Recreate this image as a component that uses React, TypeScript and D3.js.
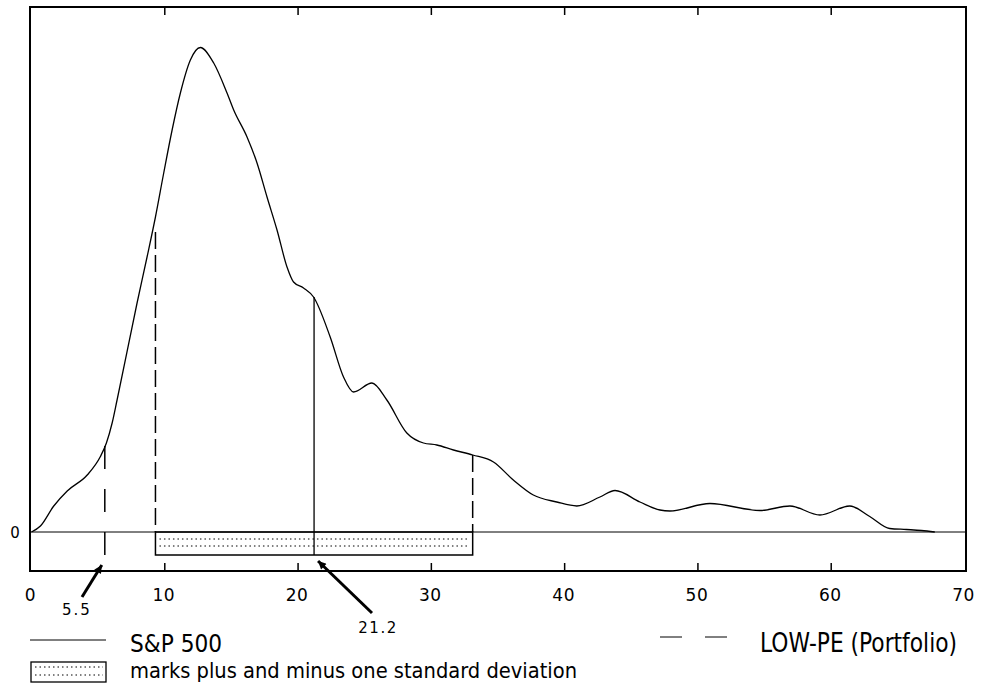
import React, { useEffect, useRef } from 'react';
import * as d3 from 'd3';

// S&P 500 P/E density (x = P/E, y = relative density)
const peValues = [0, 0.67, 1.67, 2.68, 4.18, 5.17, 5.62, 6.05, 6.42, 7.92, 8.67, 9.3, 9.92, 10.55, 11.17, 11.92, 12.67, 13.67, 14.67, 15.17, 16.17, 16.92, 17.67, 18.42, 19.17, 19.66, 20.41, 21.16, 22.41, 23.41, 24.16, 25.54, 26.66, 28.16, 29.41, 30.41, 31.66, 33.11, 34.66, 36.15, 37.65, 39.41, 40.91, 42.65, 43.78, 45.65, 47.15, 47.9, 50.9, 54.65, 56.9, 59.15, 61.39, 62.89, 64.39, 65.64, 66.77, 67.77];
const densityValues = [0, 0.012, 0.052, 0.082, 0.114, 0.151, 0.178, 0.218, 0.264, 0.458, 0.55, 0.63, 0.718, 0.804, 0.878, 0.944, 0.969, 0.938, 0.878, 0.844, 0.79, 0.738, 0.67, 0.604, 0.53, 0.5, 0.488, 0.47, 0.39, 0.31, 0.28, 0.298, 0.264, 0.198, 0.178, 0.174, 0.164, 0.154, 0.14, 0.104, 0.074, 0.06, 0.052, 0.07, 0.083, 0.06, 0.044, 0.042, 0.057, 0.043, 0.052, 0.034, 0.052, 0.031, 0.007, 0.005, 0.003, 0];

const xTicks = [0, 10, 20, 30, 40, 50, 60, 70];
const spMean = 21.2;
const spLow = 9.3;
const spHigh = 33.1;
const lowPe = 5.5;
// dashed LOW-PE marks: [x, top, bottom]
const dashedMarks = [
  [lowPe, 0.172, -0.048],
  [spLow, 0.6, 0],
  [spHigh, 0.154, 0],
];

const App = () => {
  const ref = useRef(null);

  useEffect(() => {
    document.body.style.margin = '0';
    const svg = d3.select(ref.current).attr('width', 981).attr('height', 688);
    svg.selectAll('*').remove();

    const left = 30, right = 966, top = 7, bottom = 571;
    const x = d3.scaleLinear().domain([0, 70]).range([31.5, 964.5]);
    const y = d3.scaleLinear().domain([-0.078, 1.05]).range([bottom, top]);

    const defs = svg.append('defs');
    defs.append('marker')
      .attr('id', 'head')
      .attr('viewBox', '0 0 10 10')
      .attr('refX', 10).attr('refY', 5)
      .attr('markerWidth', 11).attr('markerHeight', 8)
      .attr('markerUnits', 'userSpaceOnUse')
      .attr('orient', 'auto')
      .append('path').attr('d', 'M0,0L10,5L0,10Z').attr('fill', 'black');

    const font = 'DejaVu Sans, Verdana, sans-serif';

    // frame
    svg.append('rect')
      .attr('x', left).attr('y', top)
      .attr('width', right - left).attr('height', bottom - top)
      .attr('fill', 'none').attr('stroke', 'black').attr('stroke-width', 2);

    // ticks top and bottom
    const inner = xTicks.filter(t => t > 0 && t < 70);
    svg.selectAll('.tb').data(inner).enter().append('line')
      .attr('x1', d => x(d)).attr('x2', d => x(d))
      .attr('y1', bottom).attr('y2', bottom - 8)
      .attr('stroke', 'black').attr('stroke-width', 1.5);
    svg.selectAll('.tt').data(inner).enter().append('line')
      .attr('x1', d => x(d)).attr('x2', d => x(d))
      .attr('y1', top).attr('y2', top + 8)
      .attr('stroke', 'black').attr('stroke-width', 1.5);

    svg.selectAll('.tl').data(xTicks).enter().append('text')
      .attr('x', d => x(d) - 1).attr('y', 601)
      .attr('text-anchor', 'middle')
      .attr('font-family', font).attr('font-size', 17).attr('letter-spacing', 0.5)
      .text(d => d);

    // zero line + label
    svg.append('line')
      .attr('x1', left).attr('x2', right)
      .attr('y1', y(0)).attr('y2', y(0))
      .attr('stroke', 'black').attr('stroke-width', 1);
    svg.append('text')
      .attr('x', 15).attr('y', y(0) + 6)
      .attr('text-anchor', 'middle')
      .attr('font-family', font).attr('font-size', 15)
      .text('0');

    // std dev box
    const boxBottom = y(-0.046);
    svg.append('rect')
      .attr('x', x(spLow)).attr('y', y(0))
      .attr('width', x(spHigh) - x(spLow)).attr('height', boxBottom - y(0))
      .attr('fill', 'none').attr('stroke', 'black').attr('stroke-width', 1.5);
    [-0.014, -0.028].forEach(v => {
      svg.append('line')
        .attr('x1', x(spLow) + 4).attr('x2', x(spHigh) - 3)
        .attr('y1', y(v)).attr('y2', y(v))
        .attr('stroke', 'black').attr('stroke-width', 1)
        .attr('stroke-dasharray', '1.5,3');
    });

    // density curve
    const pts = peValues.map((p, i) => [p, densityValues[i]]);
    const line = d3.line().x(d => x(d[0])).y(d => y(d[1])).curve(d3.curveMonotoneX);
    svg.append('path')
      .attr('d', line(pts))
      .attr('fill', 'none').attr('stroke', 'black').attr('stroke-width', 1.3);

    // mean line
    svg.append('line')
      .attr('x1', x(spMean)).attr('x2', x(spMean))
      .attr('y1', y(0.47)).attr('y2', boxBottom)
      .attr('stroke', 'black').attr('stroke-width', 1.3);

    // dashed LOW-PE marks
    svg.selectAll('.dm').data(dashedMarks).enter().append('line')
      .attr('x1', d => x(d[0])).attr('x2', d => x(d[0]))
      .attr('y1', d => y(d[1])).attr('y2', d => y(d[2]))
      .attr('stroke', 'black').attr('stroke-width', 1.5)
      .attr('stroke-dasharray', (d, i) => i === 0 ? '23,20' : '17,6');

    // arrows + labels
    svg.append('line')
      .attr('x1', 82).attr('y1', 597).attr('x2', x(lowPe) - 3).attr('y2', 565)
      .attr('stroke', 'black').attr('stroke-width', 3)
      .attr('marker-end', 'url(#head)');
    svg.append('text')
      .attr('x', 77).attr('y', 615).attr('text-anchor', 'middle')
      .attr('font-family', font).attr('font-size', 15).attr('letter-spacing', 2)
      .text('5.5');
    svg.append('line')
      .attr('x1', 372).attr('y1', 613).attr('x2', x(spMean) + 4).attr('y2', 561)
      .attr('stroke', 'black').attr('stroke-width', 3)
      .attr('marker-end', 'url(#head)');
    svg.append('text')
      .attr('x', 378).attr('y', 633).attr('text-anchor', 'middle')
      .attr('font-family', font).attr('font-size', 15).attr('letter-spacing', 1.5)
      .text('21.2');

    // legend
    const lg = 'DejaVu Sans Condensed, Liberation Sans Narrow, sans-serif';
    svg.append('line')
      .attr('x1', 30).attr('x2', 106).attr('y1', 640).attr('y2', 640)
      .attr('stroke', 'black').attr('stroke-width', 1);
    svg.append('text')
      .attr('x', 130).attr('y', 652)
      .attr('font-family', lg).attr('font-size', 25)
      .attr('textLength', 92).attr('lengthAdjust', 'spacingAndGlyphs')
      .text('S&P 500');

    svg.append('line')
      .attr('x1', 660).attr('x2', 727).attr('y1', 637).attr('y2', 637)
      .attr('stroke', 'black').attr('stroke-width', 1)
      .attr('stroke-dasharray', '22,23');
    svg.append('text')
      .attr('x', 760).attr('y', 652)
      .attr('font-family', lg).attr('font-size', 26)
      .attr('textLength', 197).attr('lengthAdjust', 'spacingAndGlyphs')
      .text('LOW-PE (Portfolio)');

    svg.append('rect')
      .attr('x', 31).attr('y', 662).attr('width', 75).attr('height', 20)
      .attr('fill', 'none').attr('stroke', 'black').attr('stroke-width', 1.3);
    [667, 675].forEach(v => {
      svg.append('line')
        .attr('x1', 35).attr('x2', 103).attr('y1', v).attr('y2', v)
        .attr('stroke', 'black').attr('stroke-width', 1)
        .attr('stroke-dasharray', '1.5,3');
    });
    svg.append('text')
      .attr('x', 130).attr('y', 678)
      .attr('font-family', lg).attr('font-size', 22)
      .attr('textLength', 447).attr('lengthAdjust', 'spacingAndGlyphs')
      .text('marks plus and minus one standard deviation');
  }, []);

  return <svg ref={ref} style={{ display: 'block' }}></svg>;
};

export default App;
